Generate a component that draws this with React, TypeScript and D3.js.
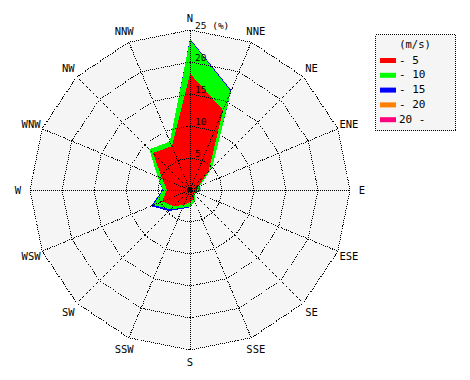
import React from "react";
import * as d3 from "d3";

const directions = ["N", "NNE", "NE", "ENE", "E", "ESE", "SE", "SSE", "S", "SSW", "SW", "WSW", "W", "WNW", "NW", "NNW"];
const speedClasses = ["- 5", "- 10", "- 15", "- 20", "20 -"];
const classColors = ["#ff0000", "#00ff00", "#0000ff", "#ff8000", "#ff0080"];
// frequency (%) per direction for each speed class
const freqTo5 = [18.2, 13.5, 4.1, 1.4, 1.1, 0.9, 0.9, 1.5, 1.9, 2.5, 3.6, 4.7, 3.6, 4.7, 8.2, 7.4];
const freqTo10 = [5.3, 3.2, 0.8, 0.3, 0.2, 0.2, 0.2, 0.5, 0.7, 0.5, 0.7, 1.5, 0.6, 0.8, 0.8, 0.8];
const freqTo15 = [0.15, 0.15, 0, 0, 0, 0, 0, 0, 0.1, 0.2, 0.35, 0.4, 0.1, 0, 0, 0];
const freqTo20 = [0, 0, 0, 0, 0, 0, 0, 0, 0, 0, 0, 0, 0, 0, 0, 0];
const freqOver20 = [0, 0, 0, 0, 0, 0, 0, 0, 0, 0, 0, 0, 0, 0, 0, 0];
const ringTicks = [5, 10, 15, 20, 25];
const unitLabel = "(m/s)";
const percentLabel = "(%)";

export default function App() {
  const W = 470, H = 380;
  const cx = 190, cy = 190, R = 160;
  const font = "'DejaVu Sans Mono', 'Liberation Mono', monospace";
  const r = d3.scaleLinear().domain([0, 25]).range([0, R]);
  const n = directions.length;
  const ang = (i: number) => (i * 2 * Math.PI) / n;

  const series = [freqTo5, freqTo10, freqTo15, freqTo20, freqOver20];
  const cumulative: number[][] = [];
  series.forEach((s, k) => {
    cumulative.push(s.map((v, i) => v + (k > 0 ? cumulative[k - 1][i] : 0)));
  });

  const radial = d3
    .lineRadial<number>()
    .angle((_, i) => ang(i))
    .radius((d) => r(d))
    .curve(d3.curveLinearClosed);

  const ringLine = (v: number) => radial(directions.map(() => v)) || "";

  const pt = (i: number, rad: number) => [cx + rad * Math.sin(ang(i)), cy - rad * Math.cos(ang(i))];

  return (
    <svg width={W} height={H} style={{ position: "absolute", left: 0, top: 0, background: "#fff" }}>
      <g transform={`translate(${cx},${cy})`}>
        <path d={ringLine(25)} fill="#f5f5f5" stroke="none" />
        {cumulative
          .map((vals, k) => ({ vals, k }))
          .reverse()
          .map(({ vals, k }) => (
            <path key={k} d={radial(vals) || ""} fill={classColors[k]} stroke="none" shapeRendering="crispEdges" />
          ))}
        {ringTicks.map((t) => (
          <path key={t} d={ringLine(t)} fill="none" stroke="#000" strokeWidth={1} strokeDasharray="1,1" shapeRendering="crispEdges" />
        ))}
        {directions.map((d, i) => {
          const [x, y] = [r(25) * Math.sin(ang(i)), -r(25) * Math.cos(ang(i))];
          return <line key={d} x1={0} y1={0} x2={x} y2={y} stroke="#000" strokeWidth={1} strokeDasharray="1,1" shapeRendering="crispEdges" />;
        })}
        <circle r={2} fill="#000" />
      </g>
      {ringTicks.map((t) => (
        <text key={t} x={cx + 5} y={cy - r(t) - 1} fontFamily={font} fontSize={9.5} fill="#000">
          {t === 25 ? `${t} ${percentLabel}` : `${t}`}
        </text>
      ))}
      <text x={cx + 5} y={cy + 2} fontFamily={font} fontSize={9.5} fill="#000">0</text>
      {directions.map((d, i) => {
        const [x, y] = pt(i, 172);
        return (
          <text key={d} x={x} y={y} textAnchor="middle" dominantBaseline="central" fontFamily={font} fontSize={10.5} fill="#000">
            {d}
          </text>
        );
      })}
      <g>
        <rect x={375.5} y={34.5} width={80} height={96} fill="#f5f5f5" stroke="#000" strokeDasharray="1,1" shapeRendering="crispEdges" />
        <text x={415} y={44} textAnchor="middle" dominantBaseline="central" fontFamily={font} fontSize={10.5} fill="#000">{unitLabel}</text>
        {speedClasses.map((s, k) => {
          const y = 60 + k * 14.8;
          return (
            <g key={s}>
              <rect x={380} y={y - 2} width={16} height={5} fill={classColors[k]} />
              <text x={399} y={y} dominantBaseline="central" fontFamily={font} fontSize={11} fill="#000">{s}</text>
            </g>
          );
        })}
      </g>
    </svg>
  );
}
